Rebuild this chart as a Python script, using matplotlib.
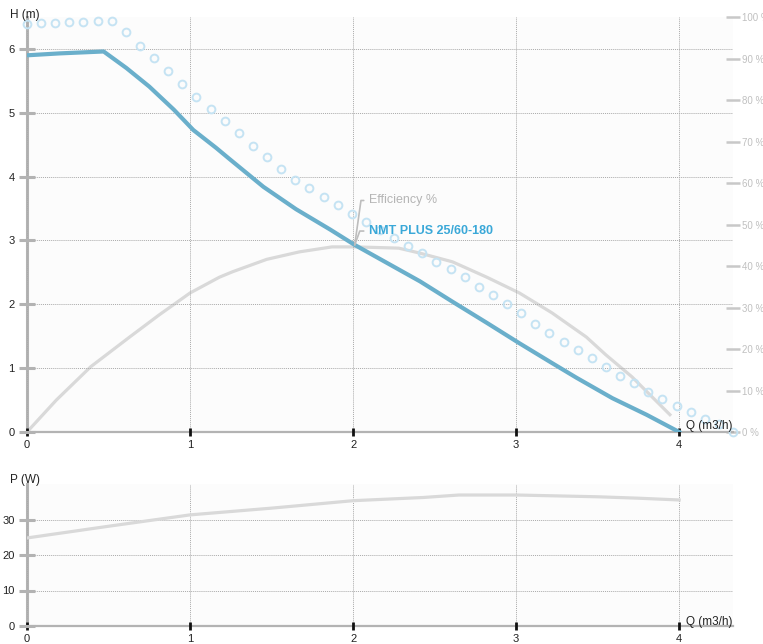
import numpy as np
import matplotlib
matplotlib.use("Agg")
import matplotlib.pyplot as plt

plt.rcParams['font.family'] = ['Liberation Sans', 'DejaVu Sans']

# pump curve NMT PLUS 25/60-180
q_h = [0, 0.2, 0.47, 0.61, 0.75, 0.90, 1.02, 1.16, 1.24, 1.45, 1.65, 1.86, 2.01,
       2.41, 2.61, 2.82, 3.02, 3.22, 3.37, 3.59, 3.80, 4.0]
h = [5.90, 5.93, 5.96, 5.70, 5.41, 5.05, 4.73, 4.45, 4.28, 3.84, 3.49, 3.17, 2.93,
     2.36, 2.04, 1.71, 1.39, 1.08, 0.85, 0.53, 0.27, 0.0]

# max curve (dotted circles)
q_max = list(np.arange(51) * 0.0866)
h_max = [6.39, 6.41, 6.41, 6.42, 6.42, 6.43, 6.43, 6.27, 6.05, 5.86,
         5.66, 5.45, 5.25, 5.06, 4.87, 4.69, 4.48, 4.31, 4.12, 3.95,
         3.82, 3.68, 3.56, 3.42, 3.29, 3.17, 3.04, 2.92, 2.81, 2.66,
         2.56, 2.43, 2.27, 2.15, 2.01, 1.86, 1.69, 1.55, 1.41, 1.29,
         1.16, 1.02, 0.88, 0.77, 0.63, 0.52, 0.41, 0.31, 0.20, 0.13, 0.0]

# efficiency %
q_eff = [0, 0.18, 0.39, 0.63, 0.81, 1.0, 1.18, 1.26, 1.47, 1.67, 1.87, 2.02, 2.28,
         2.41, 2.61, 2.82, 3.02, 3.22, 3.43, 3.55, 3.71, 3.95]
eff = [0, 7.7, 15.7, 22.9, 28.2, 33.5, 37.3, 38.6, 41.6, 43.4, 44.6, 44.6, 44.3,
       43.1, 41.0, 37.3, 33.5, 28.7, 22.9, 18.6, 13.3, 3.9]

# power input
q_p = [0, 0.5, 0.75, 1.0, 1.5, 2.0, 2.43, 2.65, 3.0, 3.5, 3.75, 4.0]
p = [24.8, 28.1, 29.7, 31.3, 33.2, 35.3, 36.2, 36.9, 36.9, 36.4, 36.0, 35.5]

q_ticks = [0, 1, 2, 3, 4]
h_ticks = [0, 1, 2, 3, 4, 5, 6]
eff_ticks = list(range(0, 101, 10))
p_ticks = [0, 10, 20, 30]

BLUE = '#6aafcb'
GREY = '#d9d9d9'
AXGREY = '#b3b3b3'
W, H = 763, 644

fig = plt.figure(figsize=(W / 100, H / 100), dpi=100)
ax = fig.add_axes([27 / W, 1 - 432 / H, 706 / W, 415 / H])
ax3 = fig.add_axes([27 / W, 1 - 626 / H, 706 / W, 142 / H])


def style(a, yticks, ymax):
    a.set_facecolor('#fcfcfc')
    a.set_xlim(0, 4.33)
    a.set_ylim(0, ymax)
    a.set_xticks(q_ticks)
    a.set_yticks(yticks)
    for s in ['top', 'right']:
        a.spines[s].set_visible(False)
    a.spines['left'].set_color(AXGREY)
    a.spines['left'].set_linewidth(2.2)
    a.spines['bottom'].set_color(AXGREY)
    a.spines['bottom'].set_linewidth(1.6)
    # ticks drawn over the spines
    a.spines['left'].set_zorder(0.3)
    a.spines['bottom'].set_zorder(0.3)
    a.tick_params(axis='x', direction='inout', length=6, width=2, color='#111111',
                  labelsize=8, labelcolor='#222222', pad=3)
    a.tick_params(axis='y', direction='inout', length=12, width=2.2, color=AXGREY,
                  labelsize=8, labelcolor='#222222', pad=3)
    a.grid(True, linestyle=(0, (1, 1)), color='#aaaaaa', linewidth=0.7)
    a.set_axisbelow(True)


style(ax, h_ticks, 6.5)
style(ax3, p_ticks, 40)

# efficiency on a twin axis, 0..100 %
ax2 = ax.twinx()
ax2.set_position(ax.get_position())
ax2.set_ylim(0, 100)
ax2.set_yticks(eff_ticks)
ax2.set_yticklabels([f"{v} %" for v in eff_ticks])
for s in ax2.spines.values():
    s.set_visible(False)
ax2.tick_params(axis='y', direction='inout', length=10, width=1.8, color='#c8c8c8',
                labelsize=7, labelcolor='#c0c0c0', pad=1.5)
ax2.plot(q_eff, eff, color=GREY, lw=2.3, solid_capstyle='butt', zorder=2)

ax.plot(q_max, h_max, 'o', ms=5.6, mfc='none', mec='#c5e3f3', mew=1.4,
        clip_on=False, zorder=3)
ax.plot(q_h, h, color=BLUE, lw=3, zorder=4)
ax.set_zorder(ax2.get_zorder() + 1)
ax.patch.set_visible(False)
ax2.patch.set_visible(True)
ax2.patch.set_facecolor('#fcfcfc')

# labels on the crossing point at Q = 2
anchor = (q_h[12], h[12])
ax.annotate('Efficiency %', xy=anchor, xytext=(10, 32), textcoords='offset points',
            ha='left', va='center', fontsize=9, color='#b5b5b5',
            arrowprops=dict(arrowstyle='-', color='#bdbdbd', lw=1.2, shrinkA=1.5, shrinkB=0,
                            relpos=(0, 0.5), connectionstyle='angle,angleA=0,angleB=82,rad=0'),
            zorder=6)
ax.annotate('NMT PLUS 25/60-180', xy=anchor, xytext=(10, 10), textcoords='offset points',
            ha='left', va='center', fontsize=9, fontweight='bold', color='#3aa8d8',
            arrowprops=dict(arrowstyle='-', color='#bdbdbd', lw=1.2, shrinkA=1.5, shrinkB=0,
                            relpos=(0, 0.5), connectionstyle='angle,angleA=0,angleB=70,rad=0'),
            zorder=6)

ax3.plot(q_p, p, color=GREY, lw=2.3, zorder=3)

# axis titles
fig.text(10 / W, 1 - 18 / H, 'H (m)', fontsize=8.5, color='#222222')
fig.text(10 / W, 1 - 483 / H, 'P (W)', fontsize=8.5, color='#222222')
ax.text(4.04, 0.04, 'Q (m3/h)', fontsize=8.5, color='#222222', ha='left', va='baseline')
ax3.text(4.04, 0.25, 'Q (m3/h)', fontsize=8.5, color='#222222', ha='left', va='baseline')

fig.savefig('out.png', dpi=100)
